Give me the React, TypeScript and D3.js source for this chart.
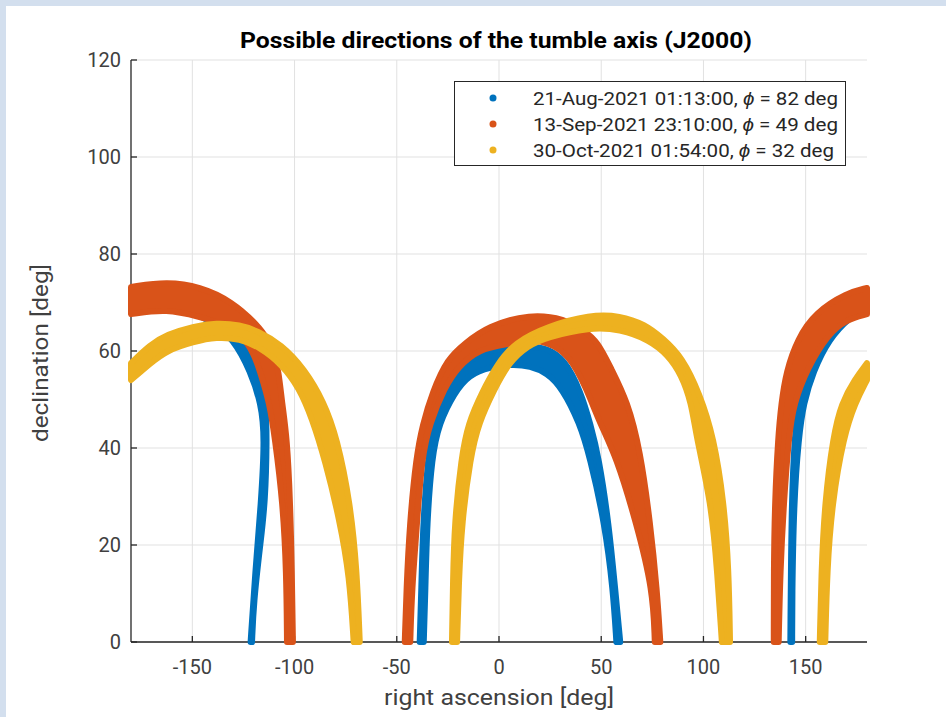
import React from "react";
import * as d3 from "d3";

type Pt = [number, number];

// Legend entries
const seriesDates = ["21-Aug-2021 01:13:00", "13-Sep-2021 23:10:00", "30-Oct-2021 01:54:00"];
const seriesPhi = [82, 49, 32];
const seriesColors = ["#0072BD", "#D95319", "#EDB120"];

// Axis ticks
const xTicks = [-150, -100, -50, 0, 50, 100, 150];
const yTicks = [0, 20, 40, 60, 80, 100, 120];

// Each band of candidate axis directions is bounded by two edges [ra, dec] (deg),
// traced through the centres of the outermost markers.
// 21-Aug-2021
const augLeftTop: Pt[] = [[-180, 71.8], [-151.1, 72.2], [-138.9, 70.9], [-127.7, 65.4], [-120.8, 60.2], [-115.9, 54], [-114, 47.8], [-113.5, 42.3], [-114.3, 28.6], [-116.8, 20], [-120, 8], [-120.8, 0]];
const augLeftBottom: Pt[] = [[-180, 69.5], [-156, 68.8], [-141.4, 66.5], [-129.8, 62.5], [-121.5, 55.7], [-116.4, 49.2], [-114.6, 42.3], [-116.4, 28.6], [-119.3, 14.2], [-121.5, 0]];
const augMidOuter: Pt[] = [[-38.8, 0], [-38, 10.7], [-37.2, 24.5], [-34.7, 38.2], [-32.3, 45.1], [-27.6, 51.5], [-20.5, 56], [-11, 59.2], [0.5, 60.6], [15.2, 61], [23.3, 60.6], [32, 58.4], [40.1, 51.6], [44.8, 44.8], [48.8, 38.2], [53.7, 24.5], [56.9, 10.7], [59.3, 0]];
const augMidInner: Pt[] = [[-36.8, 0], [-36, 10.7], [-35.2, 24.5], [-32.8, 38.2], [-29.3, 45.1], [-21.8, 51.4], [-14.7, 55.1], [-4.4, 56.7], [6.8, 57.3], [15.2, 56.9], [23.5, 55.5], [30.8, 52.4], [39.5, 45.1], [44.4, 38.2], [51.7, 24.5], [55.8, 10.7], [57.4, 0]];
const augRightUpper: Pt[] = [[142.5, 0], [143, 28.6], [144.6, 42.3], [146.3, 49.2], [149.7, 55.1], [154.6, 60.2], [161.9, 65.4], [171.7, 69.5], [180, 71.8]];
const augRightLower: Pt[] = [[143.4, 0], [143.4, 8.7], [144.2, 28.6], [146.6, 42.3], [149, 49.2], [153.6, 55.7], [161.4, 62.5], [171.7, 67], [180, 69.2]];

// 13-Sep-2021
const sepLeftTop: Pt[] = [[-180, 73.2], [-162.5, 74.3], [-146.3, 73.3], [-130.8, 70.3], [-117.9, 65.3], [-113.2, 62.5], [-110.1, 59.2], [-107.8, 56.1], [-106.1, 49.2], [-103.7, 42.3], [-102.1, 28.6], [-101.3, 14.2], [-100.8, 0]];
const sepLeftBottom: Pt[] = [[-180, 67.6], [-162.5, 68.7], [-146.3, 67], [-134, 65.6], [-125.7, 63.3], [-120, 59.5], [-117.1, 56.1], [-112.2, 49.2], [-109.7, 42.3], [-105.7, 28.6], [-104, 14.2], [-103.7, 0]];
const sepMidOuter: Pt[] = [[-46.1, 0], [-45.3, 10.7], [-43.7, 24.5], [-40.5, 38.2], [-37.4, 44.8], [-32.6, 51.5], [-25.3, 58.4], [-16.6, 61.6], [-5.6, 65.1], [15.2, 67.7], [32.3, 66.6], [41.1, 64.4], [48.4, 61.9], [54.8, 56.4], [62.9, 49.6], [69.1, 39.5], [74, 24.5], [77.3, 10.7], [78.9, 0]];
const sepMidInner: Pt[] = [[-43.4, 0], [-42.6, 10.7], [-40.1, 24.5], [-37.7, 38.2], [-33.8, 45.1], [-26.7, 52.4], [-20.1, 56.7], [-9.8, 60.4], [3.9, 61.4], [15.2, 62.2], [23.5, 61.9], [34.1, 59.4], [42.7, 52.4], [49.3, 45.1], [57.4, 38.2], [67.2, 24.5], [75.3, 10.7], [76.2, 0]];
const sepRightUpper: Pt[] = [[134.4, 0], [134.4, 14.8], [134.9, 28.6], [136.5, 42.3], [138.1, 49.2], [140.4, 55.7], [146, 62.5], [154.6, 67.9], [170.2, 72], [180, 73]];
const sepRightLower: Pt[] = [[136.8, 0], [137.6, 14.8], [139.3, 28.6], [141.7, 42.3], [144.2, 49.2], [150.9, 56.5], [160.9, 63.5], [170, 66.5], [180, 67.6]];

// 30-Oct-2021
const octLeftTop: Pt[] = [[-180, 57.5], [-170.7, 61.3], [-162.5, 63.4], [-149.5, 65.1], [-138.1, 65.8], [-126.7, 65.4], [-117.9, 64.1], [-106.6, 61.4], [-95.1, 56.3], [-85.6, 49.5], [-79.2, 42.1], [-72.7, 28.6], [-69.5, 14.8], [-68.1, 0]];
const octLeftBottom: Pt[] = [[-180, 54], [-170.7, 57.4], [-162.5, 60.1], [-149.5, 61.9], [-138.1, 62.9], [-126.7, 62.5], [-117, 60.8], [-106.1, 57.2], [-97.8, 52.4], [-91.5, 46.2], [-84.9, 37.2], [-78, 25.2], [-73.1, 13.5], [-71.1, 0]];
const octMidOuter: Pt[] = [[-23, 0], [-22.5, 12.8], [-21.8, 24.5], [-18.4, 38.1], [-15.2, 45], [-8.3, 51.5], [-1, 57.2], [7.8, 61.8], [23.7, 65.1], [44.5, 67.5], [59.2, 67.3], [71.4, 65.5], [80.2, 62.6], [89.5, 58.8], [98.3, 51.1], [105, 42.3], [110.1, 28.7], [112.4, 14.8], [113, 0]];
const octMidInner: Pt[] = [[-20.5, 0], [-19.6, 12.8], [-18.2, 24.5], [-14, 38.1], [-9.9, 45.2], [-2.4, 52], [4.9, 57.7], [14.2, 61.1], [23, 62.8], [44.5, 64.9], [59.2, 64.5], [73.4, 62.3], [82.6, 59.2], [89.2, 55.1], [94.1, 49.3], [96.5, 42.3], [103.8, 28.7], [106.7, 14.8], [109, 0]];
const octRightUpper: Pt[] = [[156.9, 0], [157.7, 14.8], [159.3, 28.6], [163.4, 42.4], [167.5, 49.3], [174.1, 54.2], [180, 57.5]];
const octRightLower: Pt[] = [[159.6, 0], [160.5, 14.8], [162.9, 28.6], [168.6, 42.4], [174.2, 49.3], [180, 54]];

const bands: { series: number; a: Pt[]; b: Pt[] }[] = [
  { series: 0, a: augLeftTop, b: augLeftBottom },
  { series: 0, a: augMidOuter, b: augMidInner },
  { series: 0, a: augRightUpper, b: augRightLower },
  { series: 1, a: sepLeftTop, b: sepLeftBottom },
  { series: 1, a: sepMidOuter, b: sepMidInner },
  { series: 1, a: sepRightUpper, b: sepRightLower },
  { series: 2, a: octLeftTop, b: octLeftBottom },
  { series: 2, a: octMidOuter, b: octMidInner },
  { series: 2, a: octRightUpper, b: octRightLower },
];

const W = 946;
const H = 717;
const PLOT = { left: 131, right: 867, top: 60, bottom: 642 };
const AXIS_COLOR = "#262626";
const GRID_COLOR = "#e1e1e1";
const FONT = "Roboto, 'Liberation Sans', Arial, sans-serif";
const MARKER_R = 3;

export default function App() {
  const x = d3.scaleLinear().domain([-180, 180]).range([PLOT.left, PLOT.right]);
  const y = d3.scaleLinear().domain([0, 120]).range([PLOT.bottom, PLOT.top]);

  // B-spline through the traced edge points keeps the band outlines smooth
  const line = d3
    .line<Pt>()
    .x((d) => x(d[0]))
    .y((d) => y(d[1]))
    .curve(d3.curveBasis);

  const bandPath = (a: Pt[], b: Pt[]) => {
    const first = line(a) || "";
    const second = (line([...b].reverse()) || "").replace(/^M/, "L");
    return first + second + "Z";
  };

  return (
    <svg
      width={W}
      height={H}
      style={{ position: "absolute", left: 0, top: 0, display: "block" }}
      fontFamily={FONT}
    >
      <rect x={0} y={0} width={W} height={H} fill="#d3dfee" />
      <rect x={6} y={6} width={W - 6} height={H - 6} fill="#ffffff" />

      {/* grid */}
      <g stroke={GRID_COLOR} strokeWidth={1}>
        {xTicks.map((t) => (
          <line key={"gx" + t} x1={x(t)} x2={x(t)} y1={PLOT.top} y2={PLOT.bottom} />
        ))}
        {yTicks.map((t) => (
          <line key={"gy" + t} x1={PLOT.left} x2={PLOT.right} y1={y(t)} y2={y(t)} />
        ))}
      </g>

      {/* axes */}
      <g stroke={AXIS_COLOR} strokeWidth={1.3} fill="none">
        <line x1={PLOT.left} x2={PLOT.left} y1={PLOT.top} y2={PLOT.bottom} />
        <line x1={PLOT.left} x2={PLOT.right} y1={PLOT.bottom} y2={PLOT.bottom} />
        {xTicks.map((t) => (
          <line key={"tx" + t} x1={x(t)} x2={x(t)} y1={PLOT.bottom} y2={PLOT.bottom - 6} />
        ))}
        {yTicks.map((t) => (
          <line key={"ty" + t} x1={PLOT.left} x2={PLOT.left + 6} y1={y(t)} y2={y(t)} />
        ))}
      </g>

      {/* tick labels */}
      <g fill="#404040" fontSize={20}>
        {xTicks.map((t) => (
          <text key={"lx" + t} x={x(t)} y={PLOT.bottom + 32} textAnchor="middle">
            {t}
          </text>
        ))}
        {yTicks.map((t) => (
          <text key={"ly" + t} x={PLOT.left - 10} y={y(t) + 7} textAnchor="end">
            {t}
          </text>
        ))}
      </g>

      {/* bands of possible axis directions */}
      {bands.map((b, i) => (
        <path
          key={"band" + i}
          d={bandPath(b.a, b.b)}
          fill={seriesColors[b.series]}
          stroke={seriesColors[b.series]}
          strokeWidth={MARKER_R * 2}
          strokeLinejoin="round"
        />
      ))}

      {/* axis labels and title */}
      <text
        x={(PLOT.left + PLOT.right) / 2}
        y={705}
        textAnchor="middle"
        fontSize={22}
        fill="#404040"
        textLength={230}
        lengthAdjust="spacingAndGlyphs"
      >
        right ascension [deg]
      </text>
      <text
        transform={`translate(48, ${353}) rotate(-90)`}
        textAnchor="middle"
        fontSize={22}
        fill="#404040"
        textLength={178}
        lengthAdjust="spacingAndGlyphs"
      >
        declination [deg]
      </text>
      <text
        x={496}
        y={48}
        textAnchor="middle"
        fontSize={22}
        fontWeight="bold"
        fill="#000"
        textLength={512}
        lengthAdjust="spacingAndGlyphs"
      >
        Possible directions of the tumble axis (J2000)
      </text>

      {/* legend */}
      <g>
        <rect x={454.5} y={81.5} width={391} height={84} fill="#fff" stroke={AXIS_COLOR} strokeWidth={1} />
        {seriesDates.map((d, i) => (
          <g key={"leg" + i} transform={`translate(0, ${98 + i * 26})`}>
            <circle cx={493} cy={0} r={3.5} fill={seriesColors[i]} />
            <text
              x={533}
              y={6.5}
              fontSize={18}
              fill="#262626"
              textLength={i === 2 ? 301 : 305}
              lengthAdjust="spacingAndGlyphs"
            >
              {d + ", "}
              <tspan fontStyle="italic">{"\u03D5"}</tspan>
              {` = ${seriesPhi[i]} deg`}
            </text>
          </g>
        ))}
      </g>
    </svg>
  );
}
